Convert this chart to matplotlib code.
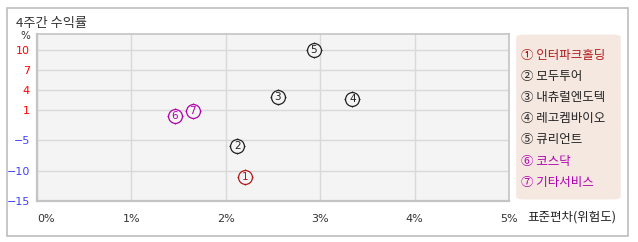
import numpy as np
import matplotlib
matplotlib.use("Agg")
from matplotlib import pyplot as plt
from matplotlib.patches import FancyBboxPatch, Rectangle

plt.rcParams['font.family'] = ['Noto Sans CJK KR', 'DejaVu Sans']
plt.rcParams['axes.unicode_minus'] = True

# data
names = ['인터파크홀딩', '모두투어', '내츄럴엔도텍', '레고켐바이오', '큐리언트', '코스닥', '기타서비스']
marks = ['①', '②', '③', '④', '⑤', '⑥', '⑦']
nums = ['1', '2', '3', '4', '5', '6', '7']
risk = [2.20, 2.12, 2.55, 3.34, 2.93, 1.46, 1.65]      # std dev, %
ret4w = [-11.0, -6.0, 3.0, 2.7, 10.0, -0.2, 0.9]       # 4 week return, %
colors = ['#b21a1a', '#222222', '#222222', '#222222', '#222222', '#b000b0', '#b000b0']

yticks = [10, 7, 4, 1, -5, -10, -15]
xticks = [0, 1, 2, 3, 4, 5]

# the source chart spaces its y ticks evenly in two blocks, so use a piecewise scale
knot_v = [-15, -10, -5, 1, 4, 7, 10, 12.4]
knot_p = [0, 30, 61, 91, 111, 131, 151, 167]

def fwd(v):
    return np.interp(v, knot_v, knot_p)

def inv(p):
    return np.interp(p, knot_p, knot_v)

fig = plt.figure(figsize=(6.38, 2.42), dpi=100)
W, H = 638, 242

# outer frame
fig.patches.append(Rectangle((6.5 / W, 1 - 235.5 / H), 621 / W, 228 / H,
                             transform=fig.transFigure, fill=False,
                             edgecolor='#bdbdbd', linewidth=1.2))
fig.text(16 / W, 1 - 24 / H, '4주간 수익률', fontsize=9.5, color='#333333',
         va='center', ha='left')

ax = fig.add_axes([37 / W, 1 - 201 / H, (509 - 37) / W, (201 - 34) / H])
ax.set_facecolor('#f4f4f4')
ax.set_yscale('function', functions=(fwd, inv))
ax.set_xlim(0, 5)
ax.set_ylim(-15, 12.4)
ax.set_xticks(xticks)
ax.set_yticks(yticks)
ax.set_xticklabels(['%d%%' % t for t in xticks])
ax.set_yticklabels([str(t).replace('-', '\u2212') for t in yticks])
ax.yaxis.set_minor_locator(matplotlib.ticker.NullLocator())
ax.grid(True, color='#d9d9d9', linewidth=1)
ax.set_axisbelow(True)
ax.tick_params(length=0, labelsize=8)
ax.tick_params(axis='y', pad=5)
ax.tick_params(axis='x', pad=9, labelcolor='#333333')
for t in ax.get_xticklabels():
    t.set_family('DejaVu Sans')
ax.get_xticklabels()[0].set_ha('left')
for t, v in zip(ax.get_yticklabels(), yticks):
    t.set_family('DejaVu Sans')
    t.set_color('#ff0000' if v > 0 else '#4040ff')
for s in ax.spines.values():
    s.set_color('#c4c4c4')
    s.set_linewidth(1.2)
ax.spines['left'].set_linewidth(1.6)
ax.spines['bottom'].set_linewidth(1.6)

# points: little cross ticks, a circle, and the number inside
for x, y, c, n in zip(risk, ret4w, colors, nums):
    ax.scatter([x], [y], marker='+', s=145, color=c, linewidths=0.9, zorder=3)
    ax.scatter([x], [y], marker='o', s=100, facecolor='#f4f4f4', edgecolor=c,
               linewidths=0.9, zorder=4)
    ax.text(x, y, n, color=c, fontsize=7.5, ha='center', va='center',
            family='DejaVu Sans', zorder=5)

fig.text(25 / W, 1 - 36 / H, '%', fontsize=7.5, color='#333333',
         ha='center', va='center', family='DejaVu Sans')
fig.text(527 / W, 1 - 217 / H, '표준편차(위험도)', fontsize=9, color='#222222',
         ha='left', va='center')

# legend panel
fig.patches.append(FancyBboxPatch((520 / W, 1 - 198 / H), 97 / W, 162 / H,
                                  boxstyle='round,pad=0.006,rounding_size=0.012',
                                  transform=fig.transFigure, facecolor='#f5e8e1',
                                  edgecolor='none'))
for i in range(len(names)):
    yy = 55 + i * 21.2
    fig.text(521 / W, 1 - yy / H, marks[i] + ' ' + names[i], fontsize=9,
             color=colors[i], ha='left', va='center')

fig.savefig('out.png', dpi=100)
